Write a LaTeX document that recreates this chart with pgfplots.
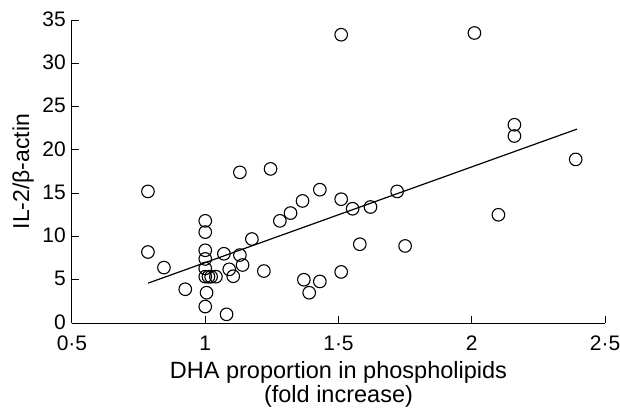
\documentclass[border=0pt]{standalone}
\usepackage{fontspec}
\setmainfont{Liberation Sans}
\usepackage{pgfplots}
\pgfplotsset{compat=1.18}
\begin{document}
\begin{tikzpicture}
\begin{axis}[
  scale only axis, width=533pt, height=303pt,
  xmin=0.5, xmax=2.5, ymin=0, ymax=35,
  axis lines*=left,
  xtick={0.5,1,1.5,2,2.5}, xticklabels={0·5,1,1·5,2,2·5},
  ytick={0,5,10,15,20,25,30,35}, yticklabels={0,5,10,15,20,25,30,35},
  tick align=inside, major tick length=7pt,
  tick style={black, line width=1pt},
  axis line style={black, line width=1pt},
  ticklabel style={font=\fontsize{21}{24}\selectfont, inner sep=1pt},
  xticklabel style={yshift=-12pt},
  yticklabel style={xshift=-5pt, yshift=1pt},
  xlabel={DHA proportion in phospholipids\\(fold increase)},
  xlabel style={align=center, font=\fontsize{23.5}{23.5}\selectfont, yshift=-6pt},
  ylabel={IL-2/β-actin},
  ylabel style={font=\fontsize{23}{25}\selectfont, yshift=4pt},
  clip=false,
]
\coordinate (O) at (rel axis cs:0,0);
\addplot[black, line width=1.2pt] coordinates {(0.785,4.6) (2.395,22.4)};
\addplot[only marks, mark=o, mark size=6.3pt, black, line width=1.1pt] coordinates {
(0.785,15.2) (0.785,8.2) (0.845,6.4) (0.925,3.9)
(1.0,11.8) (1.0,10.5) (1.0,8.4) (1.0,7.4) (1.0,6.3) (1.0,5.35)
(1.012,5.35) (1.022,5.35) (1.04,5.35) (1.005,3.5) (1.0,1.9)
(1.08,1.0) (1.07,8.0) (1.13,7.85) (1.09,6.2) (1.14,6.7) (1.105,5.4)
(1.175,9.7) (1.22,6.0) (1.13,17.4) (1.245,17.8) (1.28,11.8)
(1.32,12.7) (1.365,14.1) (1.43,15.4) (1.51,14.3) (1.553,13.2)
(1.62,13.4) (1.72,15.2) (1.58,9.1) (1.75,8.9) (1.37,5.0) (1.43,4.8)
(1.39,3.5) (1.51,5.9) (1.51,33.3) (2.01,33.5) (2.10,12.5)
(2.16,22.9) (2.16,21.6) (2.39,18.9)
};
\end{axis}
\pgfresetboundingbox
\path (O) ++(-72pt,-87pt) rectangle ++(620pt,410pt);
\end{tikzpicture}
\end{document}
